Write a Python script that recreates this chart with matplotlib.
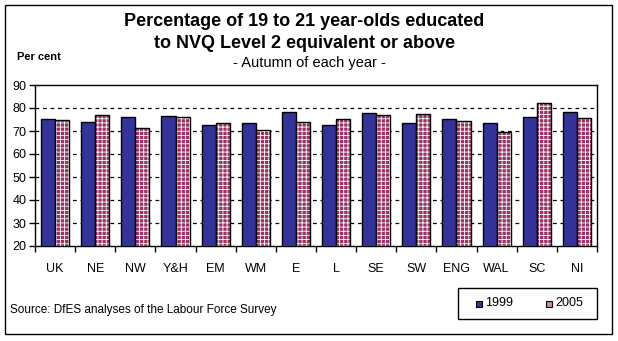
import matplotlib
matplotlib.use("Agg")
import matplotlib.pyplot as plt
from matplotlib.patches import Rectangle
import numpy as np

plt.rcParams['font.family'] = ['Liberation Sans', 'DejaVu Sans']

regions = ["UK", "NE", "NW", "Y&H", "EM", "WM", "E", "L", "SE", "SW", "ENG", "WAL", "SC", "NI"]
pct_1999 = [75.2, 73.9, 76.1, 76.5, 72.8, 73.5, 78.3, 72.6, 77.8, 73.5, 75.2, 73.5, 76.1, 78.3]
pct_2005 = [74.8, 77.1, 71.3, 76.1, 73.5, 70.4, 73.9, 75.2, 77.0, 77.4, 74.3, 69.7, 82.2, 75.7]
series_labels = ["1999", "2005"]
y_ticks = [20, 30, 40, 50, 60, 70, 80, 90]

blue = "#333399"
plum = "#993366"

fig = plt.figure(figsize=(6.18, 3.41), dpi=100)
fig.patch.set_facecolor("white")

# outer frame
fig.add_artist(Rectangle((5 / 618, 7 / 341), 607 / 618, 329 / 341, transform=fig.transFigure,
                         fill=False, edgecolor="black", linewidth=1.0))

ax = fig.add_axes([35 / 618, 1 - 246 / 341, 562 / 618, 161 / 341])
x = np.arange(len(regions))
w = 0.35

ax.bar(x - w / 2, pct_1999, width=w, color=blue, edgecolor="black", linewidth=1.0, zorder=3,
       label=series_labels[0])
# checkered fill for the second series: plum base with white hatch, then black outline
plt.rcParams['hatch.linewidth'] = 0.6
ax.bar(x + w / 2, pct_2005, width=w, color=plum, edgecolor="white", linewidth=0, hatch="++++",
       zorder=3)
ax.bar(x + w / 2, pct_2005, width=w, fill=False, edgecolor="black", linewidth=1.0, zorder=4)

ax.set_ylim(20, 90)
ax.set_xlim(-0.5, len(regions) - 0.5)
ax.set_yticks(y_ticks)
ax.set_yticklabels([str(v) for v in y_ticks], fontsize=9)
for v in y_ticks[1:-1]:
    ax.axhline(v, color="black", linestyle=(0, (3, 3)), linewidth=0.9, zorder=1)

ax.set_xticks(x)
ax.set_xticklabels(regions, fontsize=9)
ax.tick_params(axis="x", which="major", length=0, pad=12)
ax.set_xticks(np.arange(-0.5, len(regions)), minor=True)
ax.tick_params(axis="x", which="minor", length=4, direction="out", width=1)
ax.tick_params(axis="y", length=4, direction="out", width=1, pad=2)
for s in ax.spines.values():
    s.set_linewidth(1.0)

fig.text(0.4925, 1 - 21.5 / 341, "Percentage of 19 to 21 year-olds educated", ha="center", va="center",
         fontsize=13, fontweight="bold")
fig.text(0.4925, 1 - 44 / 341, "to NVQ Level 2 equivalent or above", ha="center", va="center",
         fontsize=13, fontweight="bold")
fig.text(0.5, 1 - 63 / 341, "- Autumn of each year -", ha="center", va="center", fontsize=10.5)
fig.text(17 / 618, 1 - 57 / 341, "Per cent", ha="left", va="center", fontsize=8, fontweight="bold")
fig.text(10 / 618, 1 - 310 / 341, "Source: DfES analyses of the Labour Force Survey", ha="left",
         va="center", fontsize=8.5)

# legend box
fig.add_artist(Rectangle((458 / 618, 1 - 319 / 341), 139 / 618, 31 / 341, transform=fig.transFigure,
                         fill=False, edgecolor="black", linewidth=1.0))
fig.add_artist(Rectangle((476 / 618, 1 - 307 / 341), 6 / 618, 6 / 341, transform=fig.transFigure,
                         facecolor=blue, edgecolor="black", linewidth=0.8))
fig.text(485 / 618, 1 - 303 / 341, series_labels[0], ha="left", va="center", fontsize=9)
fig.add_artist(Rectangle((546 / 618, 1 - 307 / 341), 6 / 618, 6 / 341, transform=fig.transFigure,
                         facecolor="#c58aa6", edgecolor="black", linewidth=0.8))
fig.text(555 / 618, 1 - 303 / 341, series_labels[1], ha="left", va="center", fontsize=9)

fig.savefig("out.png", dpi=100)
